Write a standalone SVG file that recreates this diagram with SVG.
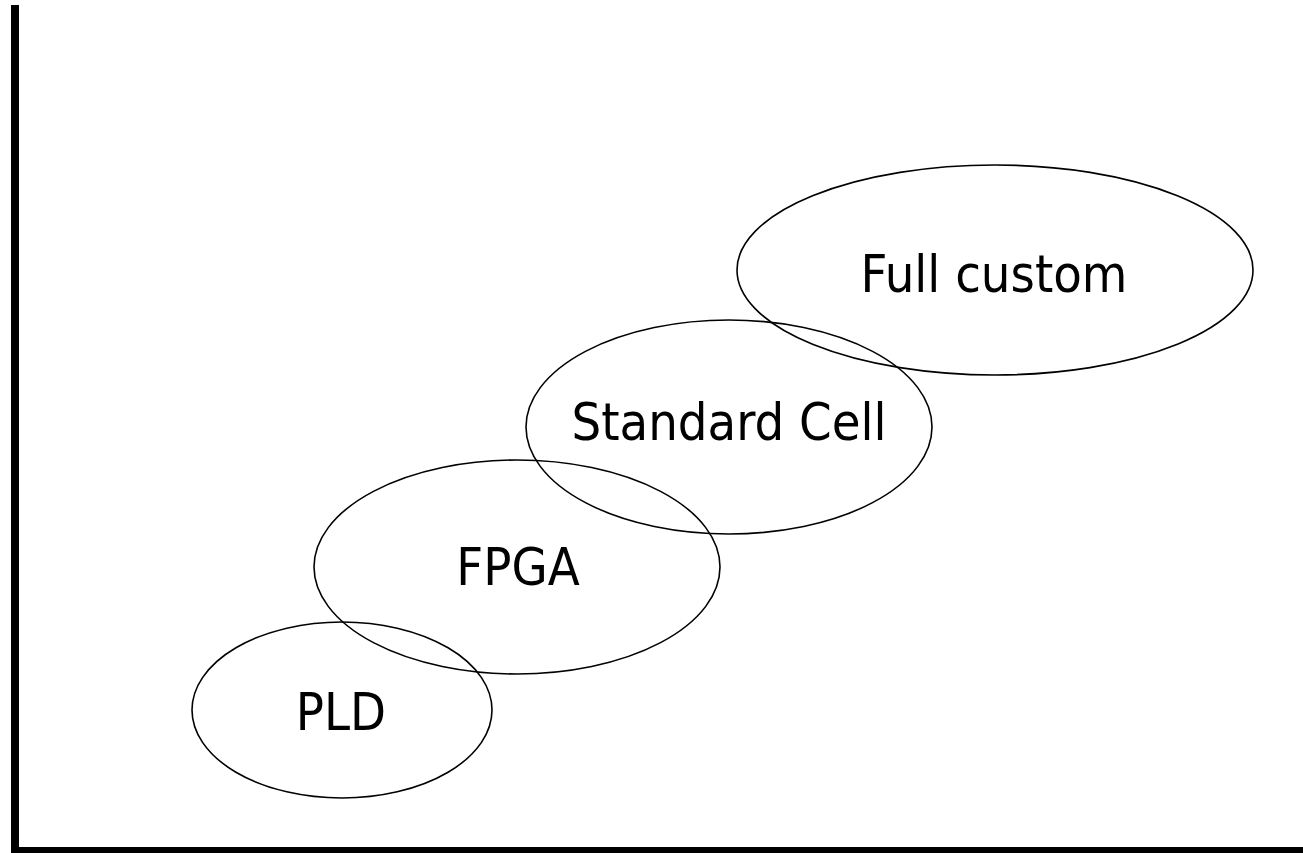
<svg xmlns="http://www.w3.org/2000/svg" width="1303" height="853" viewBox="0 0 1303 853">
  <style>
    .blob { fill: none; stroke: #000; stroke-width: 1.6; }
    .lbl { font-family: "DejaVu Sans Condensed", "DejaVu Sans", sans-serif; font-size: 52px; fill: #000; text-anchor: middle; }
    .axis { fill: #000; stroke: none; }
  </style>
  <rect width="1303" height="853" fill="#fff"/>
  <g id="axes">
    <rect class="axis" x="11" y="5" width="8" height="848"/>
    <rect class="axis" x="11" y="847" width="1292" height="6"/>
  </g>
  <g id="node-pld">
    <ellipse class="blob" cx="342" cy="710" rx="150" ry="88"/>
    <text class="lbl" x="341" y="730">PLD</text>
  </g>
  <g id="node-fpga">
    <ellipse class="blob" cx="517" cy="567" rx="203" ry="107"/>
    <text class="lbl" x="518" y="585">FPGA</text>
  </g>
  <g id="node-standard-cell">
    <ellipse class="blob" cx="729" cy="427" rx="203" ry="107"/>
    <text class="lbl" x="729" y="440">Standard Cell</text>
  </g>
  <g id="node-full-custom">
    <ellipse class="blob" cx="995" cy="270" rx="258" ry="105"/>
    <text class="lbl" x="994" y="292">Full custom</text>
  </g>
  <g id="connectors"/>
</svg>
